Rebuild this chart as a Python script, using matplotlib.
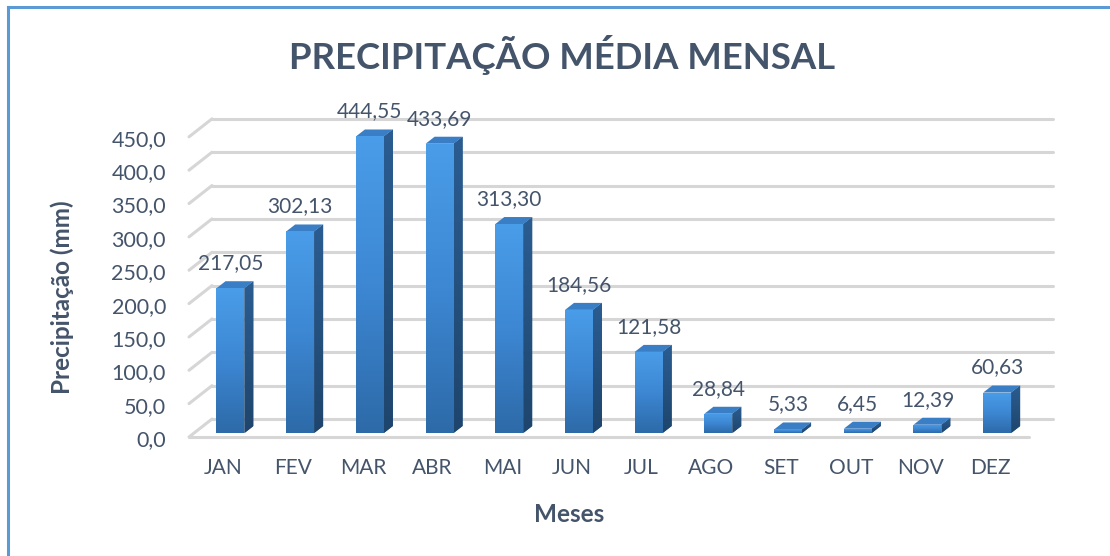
import numpy as np
import matplotlib.pyplot as plt
from matplotlib.colors import LinearSegmentedColormap
from matplotlib.patches import Polygon, Rectangle
from matplotlib.lines import Line2D

# DATA
meses = ['JAN', 'FEV', 'MAR', 'ABR', 'MAI', 'JUN', 'JUL', 'AGO', 'SET', 'OUT', 'NOV', 'DEZ']
precip = [217.05, 302.13, 444.55, 433.69, 313.30, 184.56, 121.58, 28.84, 5.33, 6.45, 12.39, 60.63]
grid_vals = np.arange(0, 451, 50)

TXT = '#44546a'
FONT = 'Lato'

# pixel layout of the fake 3d scene
W, H = 1110, 556
PX_CAT = 69.7          # pixels per category
X0_PX = 230.5          # pixel x of category 0
PX_VAL = 0.667         # pixels per mm
BASE_PX = 433          # pixel y (from top) of value 0 on bar front

fig = plt.figure(figsize=(W / 100, H / 100), dpi=100)
ax_l, ax_r, ax_b, ax_t = 120, 1100, 60, 480   # axes box in pixels (top-origin for b/t)
ax = fig.add_axes([ax_l / W, (H - ax_t) / H, (ax_r - ax_l) / W, (ax_t - ax_b) / H])
ax.axis('off')

# depth offsets
back_dy = 14 / PX_VAL
front_dy = -4 / PX_VAL
back_x0 = (212 - X0_PX) / PX_CAT
back_x1 = (1053 - X0_PX) / PX_CAT
front_x0 = (189 - X0_PX) / PX_CAT
front_x1 = (1029 - X0_PX) / PX_CAT

grid_kw = dict(color='#d6d6d6', lw=2.2, solid_capstyle='round', zorder=1)
for v in grid_vals:
    ax.plot([back_x0, back_x1], [v + back_dy, v + back_dy], **grid_kw)
    ax.plot([front_x0, back_x0], [v + front_dy, v + back_dy], **grid_kw)
    ax.text((166 - X0_PX) / PX_CAT, v + front_dy - 3 / PX_VAL, f'{v:.1f}'.replace('.', ','),
            ha='right', va='center', fontsize=15.5, color=TXT, family=FONT)
ax.plot([front_x0, front_x1], [front_dy, front_dy], **grid_kw)

# bars
bw = 28 / PX_CAT
dx = 9 / PX_CAT
dy = 7 / PX_VAL
front_cmap = LinearSegmentedColormap.from_list('front', ['#2d6aa8', '#3d87d3', '#4a9de9'])
side_cmap = LinearSegmentedColormap.from_list('side', ['#1e456c', '#2b5d92'])
grad = np.linspace(0, 1, 256).reshape(-1, 1)

for i, v in enumerate(precip):
    x0, x1 = i - bw / 2, i + bw / 2
    # side face
    side = Polygon([(x1, 0), (x1 + dx, dy), (x1 + dx, v + dy), (x1, v)],
                   closed=True, facecolor='#27557f', edgecolor='none', zorder=3)
    ax.add_patch(side)
    im = ax.imshow(grad, extent=(x1, x1 + dx, 0, v + dy), origin='lower', cmap=side_cmap,
                   aspect='auto', zorder=3)
    im.set_clip_path(side)
    # top face
    ax.add_patch(Polygon([(x0, v), (x1, v), (x1 + dx, v + dy), (x0 + dx, v + dy)],
                         closed=True, facecolor='#3a7fc6', edgecolor='none', zorder=4))
    # front face
    front = Rectangle((x0, 0), bw, v, facecolor='#3f8ad6', edgecolor='none', zorder=4)
    ax.add_patch(front)
    im = ax.imshow(grad, extent=(x0, x1, 0, v), origin='lower', cmap=front_cmap,
                   aspect='auto', zorder=4)
    im.set_clip_path(front)
    # data label
    ax.text(i, v + 19 / PX_VAL, f'{v:.2f}'.replace('.', ','), ha='center', va='baseline',
            fontsize=15, color=TXT, family=FONT, zorder=5)
    # month label
    ax.text(i - 7 / PX_CAT, (BASE_PX - 468) / PX_VAL, meses[i], ha='center', va='center',
            fontsize=15, color=TXT, family=FONT)

ax.set_xlim((ax_l - X0_PX) / PX_CAT, (ax_r - X0_PX) / PX_CAT)
ax.set_ylim((BASE_PX - ax_t) / PX_VAL, (BASE_PX - ax_b) / PX_VAL)

# titles
fig.text(562 / W, 1 - 55 / H, 'PRECIPITAÇÃO MÉDIA MENSAL', ha='center', va='center',
         fontsize=26.3, fontweight='bold', color=TXT, family=FONT)
fig.text(62 / W, 1 - 297 / H, 'Precipitação (mm)', rotation=90, ha='center', va='center',
         fontsize=17.5, fontweight='bold', color=TXT, family=FONT)
fig.text(569 / W, 1 - 515 / H, 'Meses', ha='center', va='center',
         fontsize=17.5, fontweight='bold', color=TXT, family=FONT)

# chart frame
fig.add_artist(Line2D([8 / W, 8 / W], [0, 1 - 7 / H], color='#5b9bd5', lw=2.2))
fig.add_artist(Line2D([8 / W, 1], [1 - 7 / H, 1 - 7 / H], color='#5b9bd5', lw=2.2))

fig.savefig('out.png', dpi=100)
